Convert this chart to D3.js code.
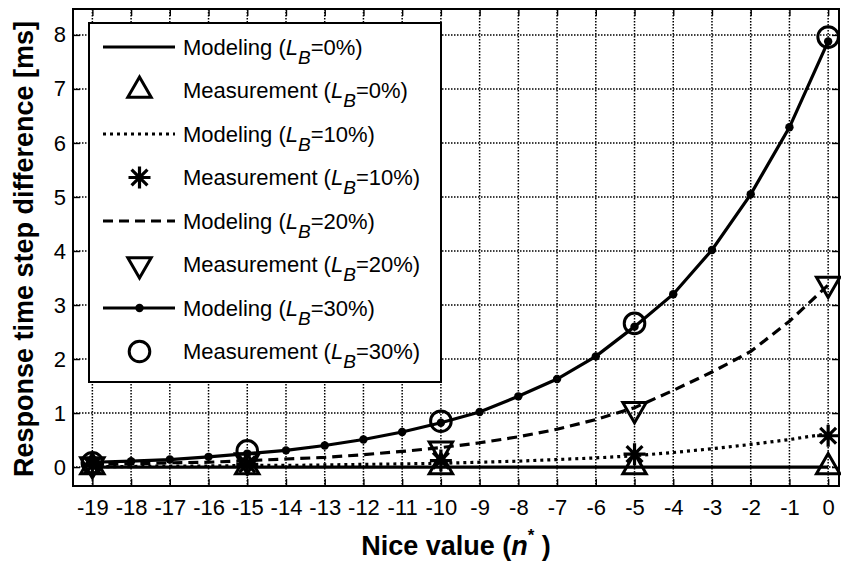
<!DOCTYPE html>
<html>
<head>
<meta charset="utf-8">
<script src="https://cdn.jsdelivr.net/npm/d3@7"></script>
<style>
  html, body { margin: 0; padding: 0; background: #fff; }
  svg { display: block; font-family: Arial, "Liberation Sans", Helvetica, sans-serif; }
</style>
</head>
<body>
<svg id="chart" width="841" height="562"></svg>
<script>
// ---- Data ----
const nValues = [-19,-18,-17,-16,-15,-14,-13,-12,-11,-10,-9,-8,-7,-6,-5,-4,-3,-2,-1,0];
const model0  = [0,0,0,0,0,0,0,0,0,0,0,0,0,0,0,0,0,0,0,0];
const model10 = [0.01,0.01,0.02,0.02,0.03,0.03,0.04,0.05,0.06,0.07,0.09,0.11,0.14,0.17,0.21,0.27,0.34,0.42,0.51,0.62];
const model20 = [0.05,0.06,0.08,0.09,0.12,0.15,0.18,0.23,0.29,0.36,0.45,0.56,0.70,0.88,1.10,1.42,1.76,2.14,2.70,3.37];
const model30 = [0.09,0.11,0.14,0.19,0.25,0.31,0.40,0.51,0.65,0.82,1.02,1.31,1.63,2.05,2.60,3.20,4.02,5.05,6.29,7.88];

const measN  = [-19,-15,-10,-5,0];
const meas0  = [0,0,0,0,0];
const meas10 = [0.03,0.05,0.12,0.24,0.58];
const meas20 = [0.05,0.12,0.34,1.07,3.39];
const meas30 = [0.08,0.30,0.85,2.66,7.96];

const xTicks = [-19,-18,-17,-16,-15,-14,-13,-12,-11,-10,-9,-8,-7,-6,-5,-4,-3,-2,-1,0];
const yTicks = [0,1,2,3,4,5,6,7,8];

const legendKinds  = ["Modeling","Measurement","Modeling","Measurement","Modeling","Measurement","Modeling","Measurement"];
const legendLB     = ["0%","0%","10%","10%","20%","20%","30%","30%"];
const legendStyles = ["solid","triUp","dotted","star","dashed","triDown","solidDot","circle"];

// ---- Layout ----
const svg = d3.select("#chart");
const L = 73, R = 839, T = 9, B = 486;
const x = d3.scaleLinear().domain([-19.5, 0.28]).range([L, R]);
const y = d3.scaleLinear().domain([-0.35, 8.48]).range([B, T]);
const FS = 22;

// Grid
const grid = svg.append("g").attr("stroke", "#000").attr("stroke-width", 1.5).attr("stroke-dasharray", "1.5,1.5");
grid.selectAll("line.v").data(xTicks).join("line").attr("class","v")
  .attr("x1", d => x(d)).attr("x2", d => x(d)).attr("y1", T).attr("y2", B);
grid.selectAll("line.h").data(yTicks).join("line").attr("class","h")
  .attr("y1", d => y(d)).attr("y2", d => y(d)).attr("x1", L).attr("x2", R);

// Axes (ticks inward)
const fmt = d => String(d);
const gB = svg.append("g").attr("transform", `translate(0,${B})`)
  .call(d3.axisBottom(x).tickValues(xTicks).tickSize(-7).tickPadding(13.4).tickFormat(fmt));
const gL = svg.append("g").attr("transform", `translate(${L},0)`)
  .call(d3.axisLeft(y).tickValues(yTicks).tickSize(-7).tickPadding(7).tickFormat(fmt));
const gT = svg.append("g").attr("transform", `translate(0,${T})`)
  .call(d3.axisTop(x).tickValues(xTicks).tickSize(-7).tickFormat(""));
const gR = svg.append("g").attr("transform", `translate(${R},0)`)
  .call(d3.axisRight(y).tickValues(yTicks).tickSize(-7).tickFormat(""));
[gB, gL, gT, gR].forEach(g => {
  g.select(".domain").remove();
  g.selectAll(".tick line").attr("stroke", "#000").attr("stroke-width", 1.4);
  g.selectAll(".tick text").attr("font-size", FS).attr("fill", "#000")
    .attr("font-family", "Arial, 'Liberation Sans', sans-serif");
});

// Lines
const lineGen = vals => d3.line().x((d, i) => x(nValues[i])).y(d => y(d))(vals);
const plot = svg.append("g").attr("fill", "none").attr("stroke", "#000");
plot.append("path").attr("d", lineGen(model0)).attr("stroke-width", 3.2);
plot.append("path").attr("d", lineGen(model10)).attr("stroke-width", 3.2).attr("stroke-dasharray", "3,4");
plot.append("path").attr("d", lineGen(model20)).attr("stroke-width", 3.2).attr("stroke-dasharray", "10,6");
plot.append("path").attr("d", lineGen(model30)).attr("stroke-width", 3.2);
svg.append("g").selectAll("circle").data(model30).join("circle")
  .attr("cx", (d, i) => x(nValues[i])).attr("cy", d => y(d)).attr("r", 4.2).attr("fill", "#000");

// Marker shapes
const RT = 13.5;
const triUp = `M0,${-RT}L${RT*0.866},${RT/2}L${-RT*0.866},${RT/2}Z`;
const triDown = `M0,${RT}L${RT*0.866},${-RT/2}L${-RT*0.866},${-RT/2}Z`;
const SR = 11;
const star = `M${-SR},0L${SR},0M0,${-SR}L0,${SR}M${-SR*0.72},${-SR*0.72}L${SR*0.72},${SR*0.72}M${-SR*0.72},${SR*0.72}L${SR*0.72},${-SR*0.72}`;

function drawMarker(g, type, cx, cy) {
  if (type === "triUp" || type === "triDown") {
    g.append("path").attr("d", type === "triUp" ? triUp : triDown)
      .attr("transform", `translate(${cx},${cy})`)
      .attr("fill", "none").attr("stroke", "#000").attr("stroke-width", 3).attr("stroke-linejoin", "miter");
  } else if (type === "star") {
    g.append("path").attr("d", star).attr("transform", `translate(${cx},${cy})`)
      .attr("fill", "none").attr("stroke", "#000").attr("stroke-width", 3.2);
  } else if (type === "circle") {
    g.append("circle").attr("cx", cx).attr("cy", cy).attr("r", 10.3)
      .attr("fill", "none").attr("stroke", "#000").attr("stroke-width", 3);
  }
}

const mg = svg.append("g");
const measSets = [[meas0, "triUp"], [meas10, "star"], [meas20, "triDown"], [meas30, "circle"]];
measSets.forEach(([vals, type]) => {
  vals.forEach((v, i) => drawMarker(mg, type, x(measN[i]), y(v)));
});

// Legend
const lg = svg.append("g");
lg.append("rect").attr("x", 89).attr("y", 23).attr("width", 352).attr("height", 359)
  .attr("fill", "#fff").attr("stroke", "#000").attr("stroke-width", 2);
legendKinds.forEach((kind, i) => {
  const cy = 47 + i * 43.5;
  const st = legendStyles[i];
  const x1 = 103, x2 = 175, xm = 139.5;
  if (st === "solid" || st === "solidDot") {
    lg.append("line").attr("x1", x1).attr("x2", x2).attr("y1", cy).attr("y2", cy)
      .attr("stroke", "#000").attr("stroke-width", 3.2);
    if (st === "solidDot") lg.append("circle").attr("cx", xm).attr("cy", cy).attr("r", 4.2).attr("fill", "#000");
  } else if (st === "dotted") {
    lg.append("line").attr("x1", x1).attr("x2", x2).attr("y1", cy).attr("y2", cy)
      .attr("stroke", "#000").attr("stroke-width", 3.2).attr("stroke-dasharray", "3,4");
  } else if (st === "dashed") {
    lg.append("line").attr("x1", x1).attr("x2", x2).attr("y1", cy).attr("y2", cy)
      .attr("stroke", "#000").attr("stroke-width", 3.2).attr("stroke-dasharray", "10,6");
  } else {
    drawMarker(lg, st, xm, cy);
  }
  const t = lg.append("text").attr("x", 183).attr("y", cy + 0.36 * FS)
    .attr("font-size", FS).attr("fill", "#000");
  t.append("tspan").text(kind + " (");
  t.append("tspan").attr("font-style", "italic").text("L");
  t.append("tspan").attr("font-style", "italic").attr("font-size", 19).attr("dy", 9).text("B");
  t.append("tspan").attr("dy", -9).text("=" + legendLB[i] + ")");
});

// Frame
svg.append("rect").attr("x", L).attr("y", T).attr("width", R - L).attr("height", B - T)
  .attr("fill", "none").attr("stroke", "#000").attr("stroke-width", 2);

// Axis titles
const xt = svg.append("text").attr("x", (L + R) / 2).attr("y", 555).attr("text-anchor", "middle")
  .attr("font-size", 27).attr("font-weight", "bold").attr("fill", "#000");
xt.append("tspan").text("Nice value (");
xt.append("tspan").attr("font-style", "italic").text("n");
xt.append("tspan").attr("font-size", 17).attr("dy", -14).text("*");
xt.append("tspan").attr("dy", 14).text(" )");

svg.append("text").attr("transform", `translate(33,249) rotate(-90)`).attr("text-anchor", "middle")
  .attr("font-size", 27).attr("font-weight", "bold").attr("fill", "#000")
  .text("Response time step difference [ms]");
</script>
</body>
</html>
